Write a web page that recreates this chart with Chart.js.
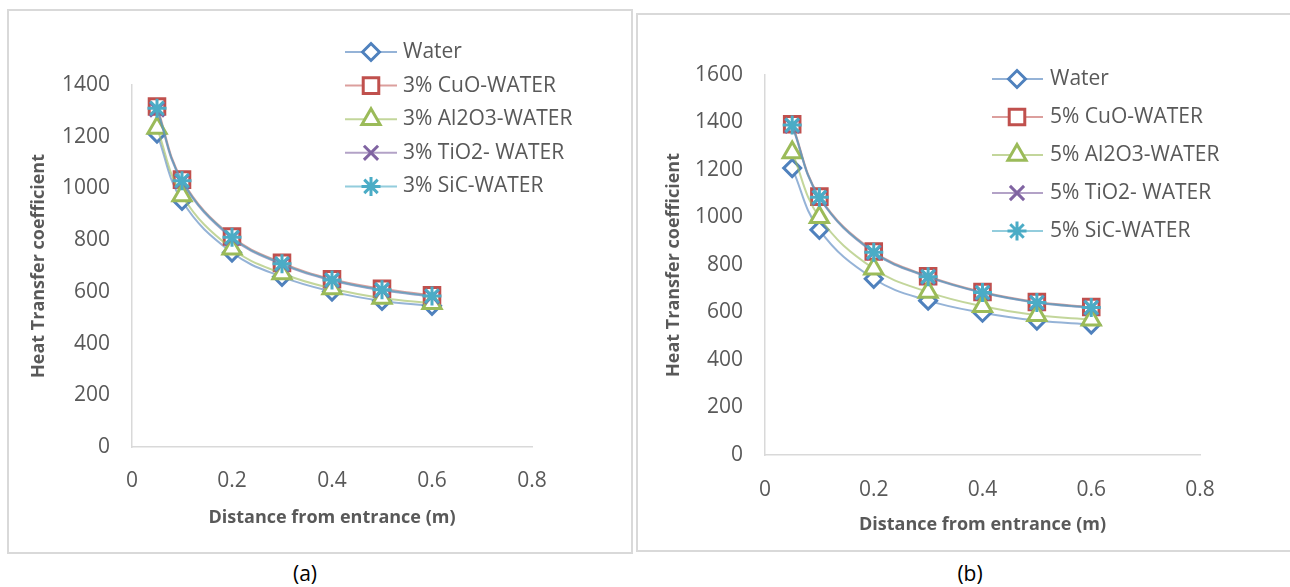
<!DOCTYPE html>
<html>
<head>
<meta charset="utf-8">
<script src="https://cdn.jsdelivr.net/npm/chart.js@4"></script>
<style>
  body { margin: 0; background: #fff; width: 1290px; height: 587px; position: relative; overflow: hidden; font-family: "Open Sans", sans-serif; }
  .box { position: absolute; border: 2px solid #d9d9d9; box-sizing: border-box; }
  canvas { position: absolute; }
  .cap { position: absolute; font-size: 21px; color: #000; transform: translateX(-50%); }
</style>
</head>
<body>
<div class="box" style="left:7px;top:9px;width:626px;height:545px;"></div>
<div class="box" style="left:636px;top:13px;width:670px;height:539px;"></div>
<canvas id="chartA" width="622" height="541" style="left:9px;top:11px;"></canvas>
<canvas id="chartB" width="652" height="535" style="left:638px;top:15px;"></canvas>
<div class="cap" style="left:305px;top:559px;">(a)</div>
<div class="cap" style="left:970px;top:559px;">(b)</div>
<script>
// ── DATA ────────────────────────────────────────────────────
const distance = [0.05, 0.1, 0.2, 0.3, 0.4, 0.5, 0.6];
const xTickLabels = ['0', '0.2', '0.4', '0.6', '0.8'];
const yTickLabelsA = ['0', '200', '400', '600', '800', '1000', '1200', '1400'];
const yTickLabelsB = ['0', '200', '400', '600', '800', '1000', '1200', '1400', '1600'];

const labelsA = ['Water', '3% CuO-WATER', '3% Al2O3-WATER', '3% TiO2- WATER', '3% SiC-WATER'];
const labelsB = ['Water', '5% CuO-WATER', '5% Al2O3-WATER', '5% TiO2- WATER', '5% SiC-WATER'];

const waterA = [1212, 952, 752, 658, 601, 565, 546];
const cuoA   = [1317, 1034, 814, 712, 649, 612, 587];
const alA    = [1234, 973, 767, 671, 613, 576, 556];
const tio2A  = [1305, 1027, 808, 706, 644, 606, 582];
const sicA   = [1310, 1030, 811, 709, 646, 608, 584];

const waterB = [1208, 948, 742, 650, 599, 566, 549];
const cuoB   = [1393, 1088, 857, 753, 686, 644, 623];
const alB    = [1274, 1001, 784, 686, 626, 588, 570];
const tio2B  = [1386, 1083, 852, 749, 683, 641, 620];
const sicB   = [1389, 1085, 854, 751, 684, 642, 621];

// ── STYLE ───────────────────────────────────────────────────
const markerColors = ['#4f81bd', '#c0504d', '#9bbb59', '#8064a2', '#4bacc6'];
const lineColors   = ['rgba(79,129,189,0.6)', 'rgba(192,80,77,0.55)', 'rgba(155,187,89,0.6)', 'rgba(128,100,162,0.6)', 'rgba(75,172,198,0.6)'];
const pointStyles  = ['rectRot', 'rect', 'triangle', 'crossRot', 'star'];
const pointRadii   = [8.5, 11, 10.5, 10, 9.5];
const textGray = '#595959';
const axisGray = '#d9d9d9';

function buildDatasets(labels, series) {
  return series.map((vals, i) => ({
    label: labels[i],
    data: vals.map((v, k) => ({ x: distance[k], y: v })),
    borderColor: lineColors[i],
    borderWidth: 2,
    tension: 0.4,
    pointStyle: pointStyles[i],
    pointRadius: pointRadii[i],
    pointHoverRadius: pointRadii[i],
    pointBorderWidth: 3,
    pointBorderColor: markerColors[i],
    pointBackgroundColor: '#ffffff',
    order: series.length - 1 - i,
  }));
}

// legend drawn inside the plot, like the spreadsheet one
const boxLegend = {
  id: 'boxLegend',
  afterDraw(chart, args, opts) {
    const ctx = chart.ctx;
    chart.data.datasets.forEach((ds, i) => {
      const y = opts.top + i * opts.step;
      ctx.save();
      ctx.strokeStyle = ds.borderColor;
      ctx.lineWidth = 2;
      ctx.beginPath();
      ctx.moveTo(opts.lineX0, y);
      ctx.lineTo(opts.lineX1, y);
      ctx.stroke();
      ctx.strokeStyle = ds.pointBorderColor;
      ctx.fillStyle = '#ffffff';
      ctx.lineWidth = ds.pointBorderWidth;
      Chart.helpers.drawPoint(ctx, { pointStyle: ds.pointStyle, radius: ds.pointRadius, rotation: 0, borderWidth: ds.pointBorderWidth }, opts.markX, y);
      ctx.fillStyle = textGray;
      ctx.font = '21px "Open Sans"';
      ctx.textBaseline = 'middle';
      ctx.textAlign = 'left';
      ctx.fillText(ds.label, opts.textX, y);
      ctx.restore();
    });
  }
};

function makeChart(id, cfg) {
  return new Chart(document.getElementById(id), {
    type: 'line',
    data: { datasets: buildDatasets(cfg.labels, cfg.series) },
    plugins: [boxLegend],
    options: {
      responsive: false,
      animation: false,
      layout: { padding: { left: 0, top: cfg.plotTop, right: cfg.padRight, bottom: 0 } },
      plugins: {
        legend: { display: false },
        tooltip: { enabled: false },
        boxLegend: cfg.legend,
      },
      scales: {
        x: {
          type: 'linear', min: 0, max: 0.8,
          grid: { display: false, drawTicks: false },
          border: { color: axisGray, width: 1.5 },
          ticks: { stepSize: 0.2, padding: cfg.xTickPad, color: textGray, font: { family: 'Open Sans', size: 21 },
                   callback: (v, i) => xTickLabels[i] },
          title: { display: true, text: 'Distance from entrance (m)', color: textGray,
                   font: { family: 'Open Sans', size: 18, weight: 'bold' }, padding: { top: 0, bottom: cfg.xTitlePad } },
          afterFit: s => { s.height = cfg.xHeight; },
        },
        y: {
          min: 0, max: cfg.yMax,
          grid: { display: false, drawTicks: false },
          border: { color: axisGray, width: 1.5 },
          ticks: { stepSize: 200, padding: 22, color: textGray, font: { family: 'Open Sans', size: 21 },
                   callback: (v, i) => cfg.yTicks[i] },
          title: { display: true, text: 'Heat Transfer coefficient', color: textGray,
                   font: { family: 'Open Sans', size: 18, weight: 'bold' }, padding: { top: cfg.yTitlePad, bottom: 0 } },
          afterFit: s => { s.width = cfg.yWidth; },
        },
      },
    },
  });
}

makeChart('chartA', {
  labels: labelsA,
  series: [waterA, cuoA, alA, tio2A, sicA],
  yMax: 1400, yTicks: yTickLabelsA,
  plotTop: 74, padRight: 99, xHeight: 105, yWidth: 123,
  xTickPad: 21, xTitlePad: 23, yTitlePad: 19,
  legend: { lineX0: 336, lineX1: 388, markX: 362, textX: 394, top: 41, step: 33.6 },
});

makeChart('chartB', {
  labels: labelsB,
  series: [waterB, cuoB, alB, tio2B, sicB],
  yMax: 1600, yTicks: yTickLabelsB,
  plotTop: 60, padRight: 90, xHeight: 95, yWidth: 127,
  xTickPad: 22, xTitlePad: 14, yTitlePad: 25,
  legend: { lineX0: 354, lineX1: 405, markX: 379, textX: 412, top: 64, step: 38 },
});
</script>
</body>
</html>
